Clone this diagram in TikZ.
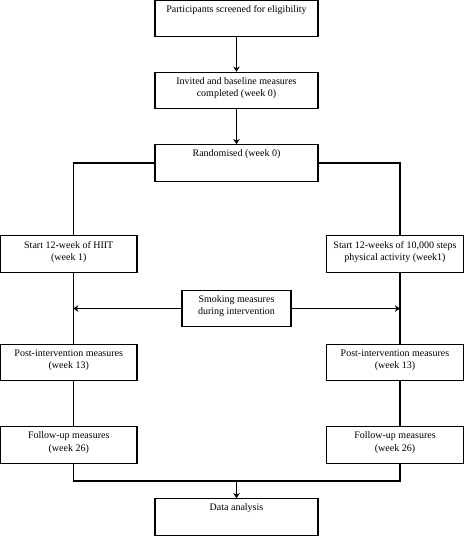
\documentclass[tikz,border=0pt]{standalone}
\usepackage{fontspec}
\setmainfont{Liberation Serif}
\usetikzlibrary{arrows.meta,calc}
\newcommand\boxtext[2]{\parbox[c][26pt][t]{#1}{\centering\fontsize{10pt}{12.5pt}\selectfont #2}}
\begin{document}
\begin{tikzpicture}[x=1pt,y=-1pt,
  flowbox/.style={draw, line width=1.2pt, inner sep=0pt, minimum height=36.5pt},
  midbox/.style={flowbox, minimum width=163pt},
  sidebox/.style={flowbox, minimum width=136.5pt},
  conn/.style={line width=1.2pt},
  arr/.style={conn, -{Stealth[length=5pt,width=6.5pt,inset=1.5pt]}}]
\useasboundingbox (0,0) rectangle (473,536);
\node[midbox] (screen) at (236.5,18.5) {\boxtext{158pt}{Participants screened for eligibility}};
\node[midbox] (invited) at (236.5,90.5) {\boxtext{158pt}{Invited and baseline measures\\completed (week 0)}};
\node[midbox] (rand) at (236.5,163) {\boxtext{158pt}{Randomised (week 0)}};
\node[sidebox] (hiit) at (68.75,254) {\boxtext{132pt}{Start 12-week of HIIT\\(week 1)}};
\node[sidebox] (steps) at (395,254) {\boxtext{132pt}{Start 12-weeks of 10,000 steps\\physical activity (week1)}};
\node[flowbox, minimum width=109pt] (smoke) at (236.5,308.5) {\boxtext{105pt}{Smoking measures\\during intervention}};
\node[sidebox] (postL) at (68.75,362.5) {\boxtext{132pt}{Post-intervention measures\\(week 13)}};
\node[sidebox] (postR) at (395,362.5) {\boxtext{132pt}{Post-intervention measures\\(week 13)}};
\node[sidebox] (fuL) at (68.75,445) {\boxtext{132pt}{Follow-up measures\\(week 26)}};
\node[sidebox] (fuR) at (395,445) {\boxtext{132pt}{Follow-up measures\\(week 26)}};
\node[midbox] (data) at (236.5,517) {\boxtext{158pt}{Data analysis}};
\coordinate (cL) at (73.3,0);
\coordinate (cR) at (400,0);
\coordinate (join) at (236.5,481);
\draw[arr] (screen) -- (invited);
\draw[arr] (invited) -- (rand);
\draw[conn] (rand.west) -| (cL |- hiit.north);
\draw[conn] (rand.east) -| (cR |- steps.north);
\draw[conn] (cL |- hiit.south) -- (cL |- postL.north);
\draw[conn] (cR |- steps.south) -- (cR |- postR.north);
\draw[arr] (smoke.west) -- (cL |- smoke.west);
\draw[arr] (smoke.east) -- (cR |- smoke.east);
\draw[conn] (cL |- postL.south) -- (cL |- fuL.north);
\draw[conn] (cR |- postR.south) -- (cR |- fuR.north);
\draw[conn] (cL |- fuL.south) -- (cL |- join) -- (cR |- join) -- (cR |- fuR.south);
\draw[arr] (join) -- (data);
\end{tikzpicture}
\end{document}
